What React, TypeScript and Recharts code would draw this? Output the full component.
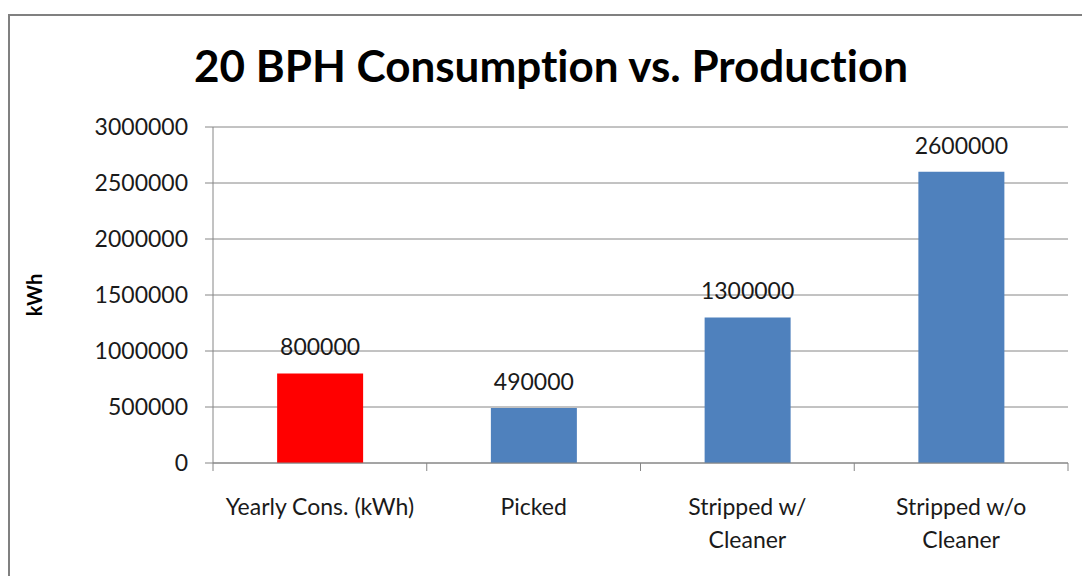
import { BarChart, Bar, XAxis, YAxis, CartesianGrid, Cell, LabelList, Label } from 'recharts'

const categories = ['Yearly Cons. (kWh)', 'Picked', 'Stripped w/\nCleaner', 'Stripped w/o\nCleaner']
const values = [800000, 490000, 1300000, 2600000]
const barColors = ['#FF0000', '#4F81BD', '#4F81BD', '#4F81BD']
const yTicks = [0, 500000, 1000000, 1500000, 2000000, 2500000, 3000000]
const boundaryTicks = [0, 1, 2, 3, 4]

const data = categories.map((name, i) => ({ name, value: values[i], pos: i + 0.5 }))

const FONT = 'Lato, "Open Sans", sans-serif'
const GRID = '#868686'

const CategoryTick = (props: any) => {
    const { x, y, payload } = props
    const lines = String(payload.value).split('\n')
    return (
        <text x={x} y={y} textAnchor="middle" fill="#1a1a1a" fontSize={23} fontFamily={FONT}>
            {lines.map((line, i) => (
                <tspan key={i} x={x} dy={i === 0 ? 43 : 33}>{line}</tspan>
            ))}
        </text>
    )
}

const EmptyTick = () => <g />

const App = () => {
    return (
        <div style={{ position: 'absolute', left: 0, top: 0, width: 1082, height: 576, background: '#fff', overflow: 'hidden' }}>
            <div style={{ position: 'absolute', left: 8, top: 14, width: 1200, height: 700, border: '2px solid #808080', boxSizing: 'border-box' }} />
            <div style={{ position: 'absolute', left: 0, top: 43, width: 1102, textAlign: 'center', fontFamily: FONT, fontWeight: 'bold', fontSize: 44, lineHeight: 1, color: '#000', fontVariantLigatures: 'none' }}>
                20 BPH Consumption vs. Production
            </div>
            <div style={{ position: 'absolute', left: 0, top: 0 }}>
                <BarChart width={1082} height={576} data={data} margin={{ top: 127, right: 14, bottom: 33, left: 0 }} barCategoryGap="30%">
                    <CartesianGrid horizontal vertical={false} stroke={GRID} />
                    {/* boundary ticks between categories, sits right on the plot edge */}
                    <XAxis
                        type="number"
                        dataKey="pos"
                        domain={[0, 4]}
                        ticks={boundaryTicks}
                        allowDataOverflow
                        axisLine={{ stroke: GRID }}
                        tickLine={{ stroke: GRID }}
                        tickSize={8}
                        tick={<EmptyTick />}
                        height={1}
                        interval={0}
                    />
                    <XAxis xAxisId="cat" dataKey="name" axisLine={false} tickLine={false} tick={<CategoryTick />} height={79} interval={0} />
                    <YAxis
                        width={213}
                        domain={[0, 3000000]}
                        ticks={yTicks}
                        axisLine={{ stroke: GRID }}
                        tickLine={{ stroke: GRID }}
                        tickSize={8}
                        tickMargin={17}
                        tick={{ fill: '#1a1a1a', fontSize: 23, fontFamily: FONT }}
                        interval={0}
                    >
                        <Label
                            content={({ viewBox }: any) => (
                                <text
                                    x={viewBox.x + 42}
                                    y={viewBox.y + viewBox.height / 2}
                                    transform={`rotate(-90 ${viewBox.x + 42} ${viewBox.y + viewBox.height / 2})`}
                                    textAnchor="middle"
                                    fontFamily={FONT}
                                    fontWeight="bold"
                                    fontSize={20}
                                    fill="#000"
                                >
                                    kWh
                                </text>
                            )}
                        />
                    </YAxis>
                    <Bar dataKey="value" xAxisId="cat" isAnimationActive={false}>
                        {data.map((d, i) => (
                            <Cell key={d.name} fill={barColors[i]} />
                        ))}
                        <LabelList dataKey="value" position="top" offset={18} fill="#1a1a1a" fontSize={23} fontFamily={FONT} />
                    </Bar>
                </BarChart>
            </div>
        </div>
    )
}

export default App
